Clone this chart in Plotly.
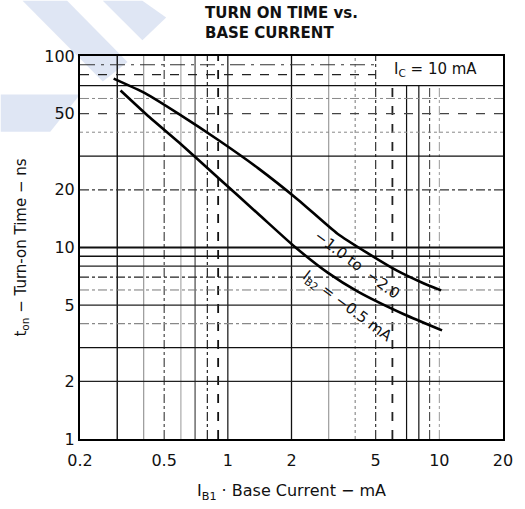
import math
import plotly.graph_objects as go

# ---- data ----
ib1_upper = [0.2885, 0.4076, 0.588, 0.905, 1.394, 2.146, 3.30, 4.56, 6.31, 8.26, 10.2]
ton_upper = [76.2, 63.8, 49.7, 36.3, 25.9, 17.77, 11.80, 9.37, 7.57, 6.57, 5.97]
ib1_lower = [0.311, 0.4255, 0.588, 0.905, 1.394, 2.078, 2.966, 4.10, 6.80, 10.3]
ton_lower = [66.1, 48.0, 35.3, 23.0, 14.96, 10.06, 7.39, 5.90, 4.48, 3.69]

x_ticks = [0.2, 0.5, 1, 2, 5, 10, 20]
x_tick_text = ["0.2", "0.5", "1", "2", "5", "10", "20"]
y_ticks = [1, 2, 5, 10, 20, 50, 100]
y_tick_text = ["1", "2", "5", "10", "20", "50", "100"]

x_grid = [0.3, 0.4, 0.5, 0.6, 0.7, 0.8, 0.9, 1, 2, 3, 4, 5, 6, 7, 8, 9, 10]
y_grid = [2, 3, 4, 5, 6, 7, 8, 9, 10, 20, 30, 40, 50, 60, 70, 80, 90]

# ---- styles ----
vstyle = {0.3: ('#111', 'solid', 1.4), 0.4: ('#999', 'solid', 1.2), 0.5: ('#222', 'dashdot', 1.0),
          0.6: ('#999', 'solid', 1.0), 0.7: ('#222', 'solid', 1.0), 0.8: ('#222', 'dashdot', 1.2),
          0.9: ('#111', 'dash', 1.8), 1: ('#222', 'solid', 1.3), 2: ('#111', 'solid', 1.3),
          3: ('#888', 'solid', 1.0), 4: ('#777', 'dot', 1.0), 5: ('#333', 'dashdot', 1.2),
          6: ('#222', 'dash', 1.8), 7: ('#111', 'solid', 1.2), 8: ('#111', 'solid', 1.2),
          9: ('#333', 'dashdot', 1.0), 10: ('#999', 'dashdot', 1.0)}
hstyle = {2: ('#222', 'solid', 1.2), 3: ('#111', 'solid', 1.3), 4: ('#888', 'dashdot', 1.2),
          5: ('#222', 'solid', 1.2), 6: ('#777', 'dashdot', 1.0), 7: ('#222', 'dashdot', 1.3),
          8: ('#222', 'solid', 1.2), 9: ('#111', 'solid', 1.3), 10: ('#111', 'solid', 1.8),
          20: ('#333', 'dashdot', 1.1), 30: ('#111', 'solid', 1.3), 40: ('#888', 'dot', 1.0),
          50: ('#444', 'dash', 1.1), 60: ('#888', 'dashdot', 1.0), 70: ('#111', 'solid', 1.3),
          80: ('#222', 'dash', 1.2), 90: ('#333', 'longdashdot', 1.1)}

W, H = 525, 509
ML, MR, MT, MB = 80, 18, 56, 64
PW, PH = W - ML - MR, H - MT - MB

def px(x):  # pixel -> paper
    return (x - ML) / PW

def py(y):
    return (H - MB - y) / PH

fig = go.Figure()

# gridlines
for xv in x_grid:
    c, d, w = vstyle[xv]
    ytop = 70 if xv > 5 else 100
    fig.add_trace(go.Scatter(x=[xv, xv], y=[1, ytop], mode='lines',
                             line=dict(color=c, dash=d, width=w), hoverinfo='skip', showlegend=False))
for yv in y_grid:
    c, d, w = hstyle[yv]
    xright = 5 if yv > 70 else 20
    fig.add_trace(go.Scatter(x=[0.2, xright], y=[yv, yv], mode='lines',
                             line=dict(color=c, dash=d, width=w), hoverinfo='skip', showlegend=False))

# curves
fig.add_trace(go.Scatter(x=ib1_upper, y=ton_upper, mode='lines',
                         line=dict(color='#000', width=2.6, shape='spline', smoothing=0.6),
                         showlegend=False))
fig.add_trace(go.Scatter(x=ib1_lower, y=ton_lower, mode='lines',
                         line=dict(color='#000', width=2.6, shape='spline', smoothing=0.6),
                         showlegend=False))

# watermark shapes (pixel coords converted to paper)
wm = '#dfe6f4'
def poly(pts):
    return 'M ' + ' L '.join(f'{px(a):.4f},{py(b):.4f}' for a, b in pts) + ' Z'

for pts in [[(22, 0), (67, 0), (128, 62), (103, 82)],
            [(103, 0), (143, 0), (167, 17), (143, 40)],
            [(0, 95), (80, 95), (50, 133), (0, 133)]]:
    fig.add_shape(type='path', path=poly(pts), xref='paper', yref='paper',
                  fillcolor=wm, line=dict(width=0), layer='below')

font_family = 'DejaVu Sans'
title_font = dict(family=font_family, size=15, color='#111', weight='bold')
ann = dict(xref='paper', yref='paper', xanchor='center', yanchor='middle', showarrow=False)

fig.add_annotation(x=px(204), y=py(22), text='TURN ON TIME vs.<br>BASE CURRENT', font=title_font,
                   align='left', **{**ann, 'xanchor': 'left'})
fig.add_annotation(x=px(439), y=py(70), text='I<sub>C</sub> = 10 mA',
                   font=dict(family=font_family, size=15, color='#111'), **ann)
fig.add_annotation(x=px(360), y=py(268), text='−1.0 to  −2.0', textangle=37,
                   font=dict(family=font_family, size=15, color='#111'), **ann)
fig.add_annotation(x=px(350), y=py(310), text='I<sub>B2</sub> = −0.5 mA', textangle=37,
                   font=dict(family=font_family, size=15, color='#111'), **ann)

fig.update_layout(
    width=W, height=H,
    margin=dict(l=ML, r=MR, t=MT, b=MB),
    paper_bgcolor='white', plot_bgcolor='white',
    font=dict(family=font_family, size=15, color='#111'),
    xaxis=dict(type='log', range=[math.log10(0.2), math.log10(20)],
               tickvals=x_ticks, ticktext=x_tick_text, showgrid=False, zeroline=False,
               showline=True, mirror=True, linecolor='#000', linewidth=2, ticks='',
               ticklabelstandoff=6, tickfont=dict(size=16),
               title=dict(text='I<sub>B1</sub> · Base Current − mA', font=dict(size=16), standoff=16)),
    yaxis=dict(type='log', range=[0, 2],
               tickvals=y_ticks, ticktext=y_tick_text, showgrid=False, zeroline=False,
               showline=True, mirror=True, linecolor='#000', linewidth=2, ticks='',
               tickfont=dict(size=16),
               title=dict(text='t<sub>on</sub> − Turn-on Time − ns', font=dict(size=15), standoff=14)),
)

fig.write_html('out.html', config={'displayModeBar': False},
               post_script="document.body.style.margin='0px';")
